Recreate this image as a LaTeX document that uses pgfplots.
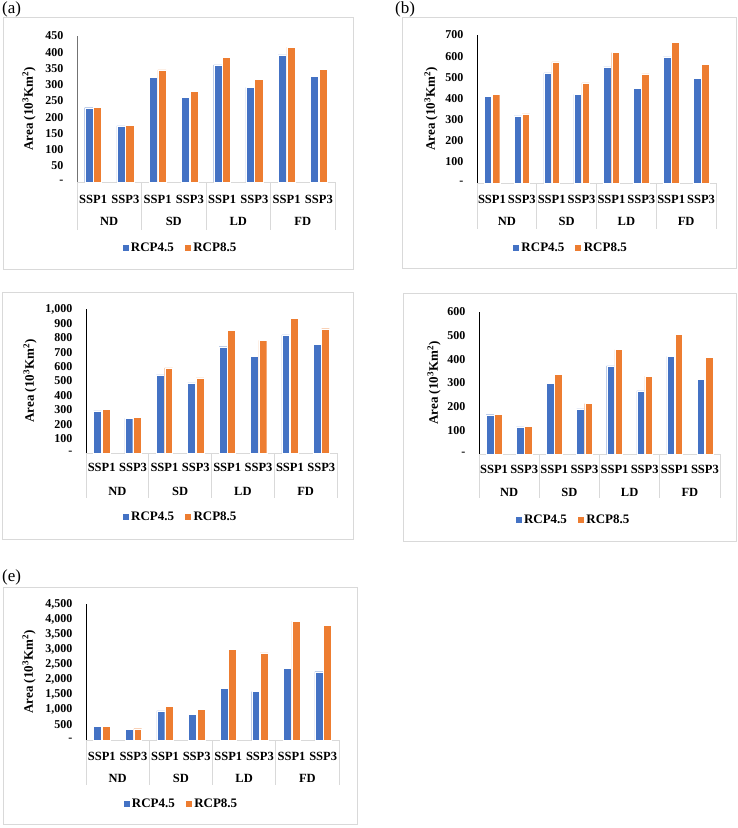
\documentclass[border=0pt]{standalone}
\usepackage{pgfplots}
\pgfplotsset{compat=1.18}
\usepackage{pgfplotstable}
\usepackage{fontspec}
\setmainfont{Liberation Serif}
\definecolor{cblue}{HTML}{4472C4}
\definecolor{corange}{HTML}{ED7D31}
\definecolor{fr}{HTML}{D9D9D9}

\pgfplotstableread{
x r45 r85
0 229 231
1 173 175
2 323 346
3 261 279
4 361 385
5 292 317
6 392 416
7 325 348
}\tA
\pgfplotstableread{
x r45 r85
0 410 419
1 317 327
2 521 573
3 419 473
4 549 617
5 449 516
6 597 665
7 495 562
}\tB
\pgfplotstableread{
x r45 r85
0 292 302
1 241 248
2 543 592
3 487 522
4 738 852
5 673 782
6 821 933
7 756 863
}\tC
\pgfplotstableread{
x r45 r85
0 166 167
1 115 117
2 299 337
3 191 213
4 372 441
5 267 329
6 413 507
7 315 409
}\tD
\pgfplotstableread{
x r45 r85
0 450 460
1 351 373
2 965 1118
3 855 1020
4 1700 2993
5 1601 2884
6 2368 3936
7 2259 3805
}\tE

\newcommand{\tfont}{\bfseries\fontsize{12.5}{14}\selectfont}
\pgfplotsset{panel/.style={
  scale only axis, xmin=-0.5, xmax=7.5, ymin=0, clip=false,
  anchor=south west,
  axis lines*=left,
  x axis line style={fr, line width=0.8pt},
  y axis line style={black, line width=0.8pt},
  major tick length=0pt,
  xtick={0,...,7},
  xticklabels={SSP1,SSP3,SSP1,SSP3,SSP1,SSP3,SSP1,SSP3},
  xticklabel style={anchor=center, font=\tfont},
  yticklabel style={font=\bfseries\fontsize{12}{14}\selectfont, xshift=-10pt},
  legend style={anchor=center, draw=none, fill=none, legend columns=2,
    font=\bfseries\fontsize{13}{15}\selectfont,
    /tikz/every even column/.append style={column sep=8pt}},
  legend image code/.code={\draw[##1] (0pt,-3.5pt) rectangle (7pt,3.5pt);},
}}
\newcommand{\bars}[1]{%
  \addplot[ybar, bar width=0.25, bar shift=-0.135, fill=cblue, draw=white, line width=0.4pt] table[x=x,y=r45]{#1};
  \addplot[ybar, bar width=0.25, bar shift=0.135, fill=corange, draw=white, line width=0.4pt] table[x=x,y=r85]{#1};
  \legend{RCP4.5,RCP8.5}}
\newcommand{\cats}[2]{%
  \draw[fr, line width=0.8pt] (axis cs:-0.5,0) -- ++(0pt,-#2)
     (axis cs:1.5,0) -- ++(0pt,-#2) (axis cs:3.5,0) -- ++(0pt,-#2)
     (axis cs:5.5,0) -- ++(0pt,-#2) (axis cs:7.5,0) -- ++(0pt,-#2);
  \node[font=\tfont, yshift=-#1] at (axis cs:0.5,0) {ND};
  \node[font=\tfont, yshift=-#1] at (axis cs:2.5,0) {SD};
  \node[font=\tfont, yshift=-#1] at (axis cs:4.5,0) {LD};
  \node[font=\tfont, yshift=-#1] at (axis cs:6.5,0) {FD};}
\newcommand{\ylab}{\bfseries\fontsize{13}{15}\selectfont Area (10\textsuperscript{3}Km\textsuperscript{2})}

\begin{document}
\begin{tikzpicture}
\useasboundingbox (0pt,0pt) rectangle (738pt,-828pt);
% frames
\draw[fr, line width=1pt] (3pt,-17pt) rectangle (353pt,-269pt);
\draw[fr, line width=1pt] (402pt,-17pt) rectangle (736pt,-268pt);
\draw[fr, line width=1pt] (2pt,-292pt) rectangle (353pt,-539pt);
\draw[fr, line width=1pt] (403pt,-293pt) rectangle (736pt,-541pt);
\draw[fr, line width=1pt] (3pt,-587pt) rectangle (357pt,-824pt);
% panel labels
\node[font=\fontsize{17}{19}\selectfont, anchor=west, inner sep=0pt] at (2pt,-9pt) {(a)};
\node[font=\fontsize{17}{19}\selectfont, anchor=west, inner sep=0pt] at (395pt,-9pt) {(b)};
\node[font=\fontsize{17}{19}\selectfont, anchor=west, inner sep=0pt] at (2pt,-577pt) {(e)};
% y labels
\node[rotate=90] at (29pt,-109pt) {\ylab};
\node[rotate=90] at (431pt,-109pt) {\ylab};
\node[rotate=90] at (30pt,-381pt) {\ylab};
\node[rotate=90] at (434pt,-383pt) {\ylab};
\node[rotate=90] at (29pt,-672pt) {\ylab};

% (a)
\begin{axis}[panel, at={(77pt,-182pt)}, width=258pt, height=146pt, ymax=450,
  ytick={0,50,...,450}, yticklabels={-,50,100,150,200,250,300,350,400,450},
  y axis line style={black!55},
  xticklabel style={yshift=-17pt},
  legend style={at={(0.399,-0.452)}}]
\bars{\tA}
\cats{39pt}{48pt}
\end{axis}

% (b)
\begin{axis}[panel, at={(477pt,-183pt)}, width=239pt, height=148pt, ymax=700,
  ytick={0,100,...,700}, yticklabels={-,100,200,300,400,500,600,700},
  xticklabel style={yshift=-16pt},
  legend style={at={(0.391,-0.439)}}]
\bars{\tB}
\cats{38pt}{46pt}
\end{axis}

% (c)
\begin{axis}[panel, at={(86pt,-453pt)}, width=251pt, height=144pt, ymax=1000,
  ytick={0,100,...,1000}, yticklabels={-,100,200,300,400,500,600,700,800,900,{1,000}},
  xticklabel style={yshift=-14pt},
  legend style={at={(0.375,-0.444)}}]
\bars{\tC}
\cats{38pt}{45pt}
\end{axis}

% (d)
\begin{axis}[panel, at={(479pt,-454pt)}, width=241pt, height=142pt, ymax=600,
  ytick={0,100,...,600}, yticklabels={-,100,200,300,400,500,600},
  xticklabel style={yshift=-15pt},
  legend style={at={(0.39,-0.465)}}]
\bars{\tD}
\cats{38pt}{44pt}
\end{axis}

% (e)
\begin{axis}[panel, at={(86pt,-740pt)}, width=253pt, height=136pt, ymax=4500,
  ytick={0,500,...,4500}, yticklabels={-,500,{1,000},{1,500},{2,000},{2,500},{3,000},{3,500},{4,000},{4,500}},
  xticklabel style={yshift=-16pt},
  legend style={at={(0.375,-0.47)}}]
\bars{\tE}
\cats{38pt}{45pt}
\end{axis}
\end{tikzpicture}
\end{document}
